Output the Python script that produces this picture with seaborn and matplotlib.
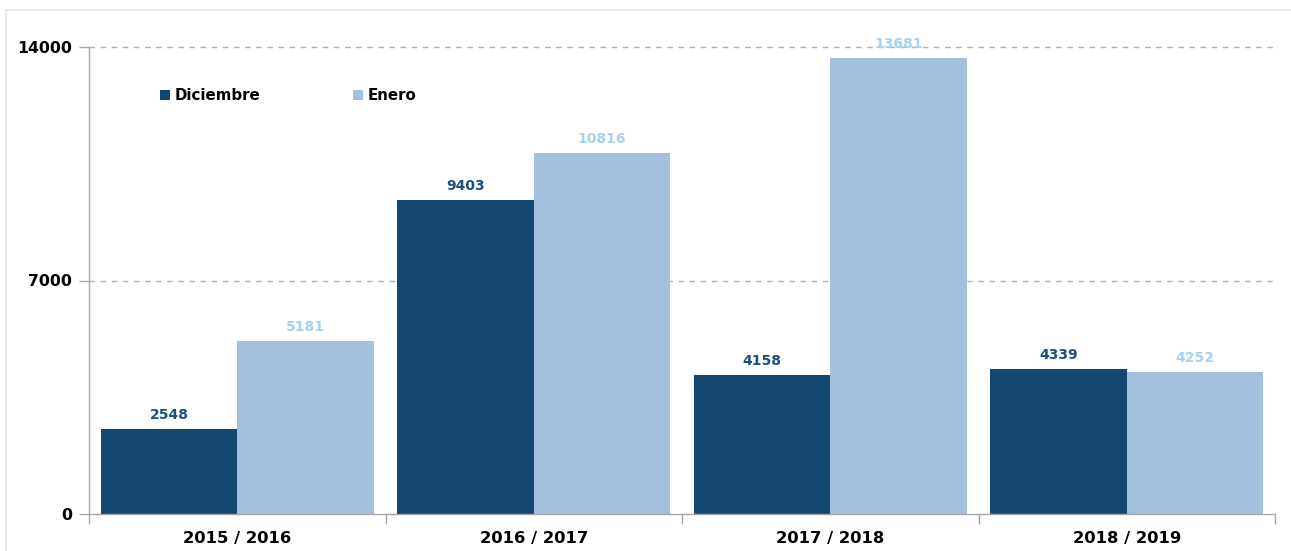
import matplotlib
matplotlib.use("Agg")
import matplotlib.pyplot as plt
import seaborn as sns
import pandas as pd
from matplotlib.patches import Rectangle

categories = ["2015 / 2016", "2016 / 2017", "2017 / 2018", "2018 / 2019"]
series_names = ["Diciembre", "Enero"]
diciembre = [2548, 9403, 4158, 4339]
enero = [5181, 10816, 13681, 4252]
y_ticks = [0, 7000, 14000]

bar_colors = ["#13476F", "#A4C0DF"]
label_colors = ["#1B4F80", "#A9D0F0"]

df = pd.DataFrame({
    "Temporada": categories * 2,
    "Serie": [series_names[0]] * 4 + [series_names[1]] * 4,
    "Valor": diciembre + enero,
})

sns.set_theme(style="white")
plt.rcParams["font.family"] = ["DejaVu Sans"]

W, H = 1291, 551
fig = plt.figure(figsize=(W / 100, H / 100), dpi=100)
ax = fig.add_axes([89 / W, 1 - 514 / H, (1275 - 89) / W, (514 - 47) / H])

sns.barplot(data=df, x="Temporada", y="Valor", hue="Serie", order=categories,
            hue_order=series_names, palette=bar_colors, width=0.92, gap=0,
            saturation=1, ax=ax, linewidth=0, legend=True)

for cont, col in zip(ax.containers, label_colors):
    ax.bar_label(cont, labels=[str(int(v)) for v in cont.datavalues], padding=5,
                 color=col, fontsize=10, fontweight="bold", clip_on=False)

ax.set_xlim(-0.5, 3.5)
ax.set_ylim(0, 14000)
ax.set_yticks(y_ticks)
ax.set_yticklabels([str(v) for v in y_ticks], fontsize=11.3, fontweight="bold", color="black")
ax.set_xticks(range(len(categories)))
ax.set_xticklabels(categories, fontsize=11.8, fontweight="bold", color="black")
ax.set_xticks([i - 0.5 for i in range(len(categories) + 1)], minor=True)
ax.tick_params(axis="x", which="major", length=0, pad=12)
ax.tick_params(axis="x", which="minor", length=7, width=1, color="#A6A6A6", direction="out", bottom=True)
ax.tick_params(axis="y", length=7, width=1, color="#A6A6A6", direction="out", left=True, pad=5)
ax.set_xlabel("")
ax.set_ylabel("")

for y in y_ticks[1:]:
    ax.axhline(y, color="#B0B0B0", linestyle=(0, (4, 4)), linewidth=1, zorder=0, clip_on=False)

for s in ["top", "right"]:
    ax.spines[s].set_visible(False)
for s in ["left", "bottom"]:
    ax.spines[s].set_visible(True)
    ax.spines[s].set_color("#A6A6A6")
    ax.spines[s].set_linewidth(1)

handles, labels = ax.get_legend_handles_labels()
ax.get_legend().remove()
fig.legend(handles, labels, loc="center left",
           bbox_to_anchor=(160 / W, 1 - 96 / H), bbox_transform=fig.transFigure,
           ncol=2, frameon=False, prop={"weight": "bold", "size": 10.8},
           labelcolor="black",
           handlelength=0.65, handleheight=0.65, handletextpad=0.35,
           columnspacing=6.15, borderpad=0, borderaxespad=0)

fig.patches.append(Rectangle((6 / W, -0.1), 1.2, 1.1 - 10 / H, transform=fig.transFigure,
                             fill=False, edgecolor="#DCE8F2", linewidth=1.2, zorder=-1))

fig.savefig("out.png", dpi=100)
